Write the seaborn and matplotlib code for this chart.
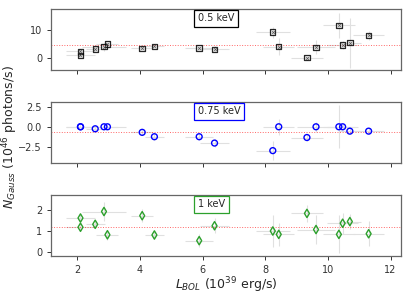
import numpy as np
import pandas as pd
import matplotlib
matplotlib.use("Agg")
import matplotlib.pyplot as plt
import seaborn as sns

# L_BOL (1e39 erg/s) and its errors, shared by the three lines
l_bol = [2.10, 2.10, 2.57, 2.85, 2.96, 4.07, 4.46, 5.89, 6.38,
         8.24, 8.43, 9.33, 9.62, 10.35, 10.47, 10.70, 11.30]
l_bol_err = [0.45, 0.45, 0.30, 0.70, 0.35, 0.35, 0.30, 0.45, 0.45,
             0.55, 0.50, 0.50, 0.60, 0.50, 0.50, 0.35, 0.50]

# normalisations (1e46 photons/s)
n_05 = [2.3, 0.8, 3.1, 3.9, 4.9, 3.3, 4.1, 3.5, 3.0,
        9.2, 3.9, 0.0, 3.7, 11.6, 4.5, 5.4, 8.0]
n_05_err = [0.7, 0.7, 0.6, 1.5, 0.8, 0.7, 0.8, 0.8, 1.0,
            2.0, 3.0, 0.5, 2.5, 4.5, 1.5, 9.0, 1.5]

n_075 = [0.0, 0.0, -0.25, 0.0, 0.0, -0.7, -1.25, -1.25, -2.05,
         -3.0, 0.0, -1.35, 0.0, 0.0, 0.0, -0.55, -0.55]
n_075_err = [0.2, 0.2, 0.3, 0.2, 0.2, 0.3, 0.4, 0.4, 0.5,
             1.2, 1.0, 0.4, 0.6, 2.7, 0.3, 0.4, 0.4]

n_1 = [1.64, 1.20, 1.34, 1.95, 0.84, 1.75, 0.83, 0.56, 1.27,
       1.02, 0.86, 1.86, 1.09, 0.86, 1.39, 1.47, 0.89]
n_1_err = [0.2, 0.2, 0.15, 0.45, 0.25, 0.3, 0.2, 0.3, 0.35,
           0.75, 0.55, 0.4, 0.7, 0.9, 0.5, 0.35, 0.6]

labels = ["0.5 keV", "0.75 keV", "1 keV"]
means = [4.4, -0.67, 1.2]
colors = ["black", "blue", "tab:green"]
markers = ["s", "o", "d"]
sizes = [15, 18, 18]
ylims = [(-4.6, 17.5), (-4.6, 3.1), (-0.19, 2.73)]
yticks = [[0, 10], [-2.5, 0.0, 2.5], [0, 1, 2]]

sns.set_style("ticks")
plt.rcParams["font.family"] = ["DejaVu Sans"]

fig, axes = plt.subplots(3, 1, figsize=(4.15, 2.94), dpi=100, sharex=True)
fig.subplots_adjust(left=0.123, right=0.966, bottom=0.128, top=0.969, hspace=0.52)

series = [(n_05, n_05_err), (n_075, n_075_err), (n_1, n_1_err)]
for ax, (vals, errs), lab, m, c, mk, sz, yl, yt in zip(axes, series, labels, means, colors,
                                                      markers, sizes, ylims, yticks):
    df = pd.DataFrame({"L": l_bol, "N": vals})
    ax.errorbar(l_bol, vals, xerr=l_bol_err, yerr=errs, fmt="none",
                ecolor="#e0e0e0", elinewidth=0.8, zorder=1)
    ax.axhline(m, color="red", ls=":", lw=0.7, alpha=0.6, zorder=2)
    sns.scatterplot(data=df, x="L", y="N", ax=ax, marker=mk, s=sz,
                    facecolor="none", edgecolor=c, linewidth=0.9 if mk == "s" else 1.0,
                    alpha=0.85 if mk == "s" else 1.0, zorder=3)
    if mk == "s":
        sns.scatterplot(data=df, x="L", y="N", ax=ax, marker="x", s=7,
                        color="#555555", linewidth=0.5, zorder=4)
    ax.text(0.42, 0.93, lab, transform=ax.transAxes, va="top", ha="left", fontsize=7,
            bbox=dict(facecolor="white", edgecolor=c, linewidth=0.9, pad=2.5))
    ax.set_ylim(*yl)
    ax.set_yticks(yt)
    ax.set_xlabel("")
    ax.set_ylabel("")
    ax.tick_params(labelsize=7, length=3, width=0.7, colors="#333333")
    for sp in ax.spines.values():
        sp.set_visible(True)
        sp.set_color("#666666")
        sp.set_linewidth(0.9)

axes[-1].set_xlim(1.16, 12.33)
axes[-1].set_xticks([2, 4, 6, 8, 10, 12])
axes[-1].set_xlabel(r"$L_{BOL}$ (10$^{39}$ erg/s)", fontsize=9, labelpad=0)
fig.text(0.025, 0.535, r"$N_{Gauss}$ (10$^{46}$ photons/s)", rotation=90,
         va="center", ha="center", fontsize=9)

fig.savefig("out.png", dpi=100)
